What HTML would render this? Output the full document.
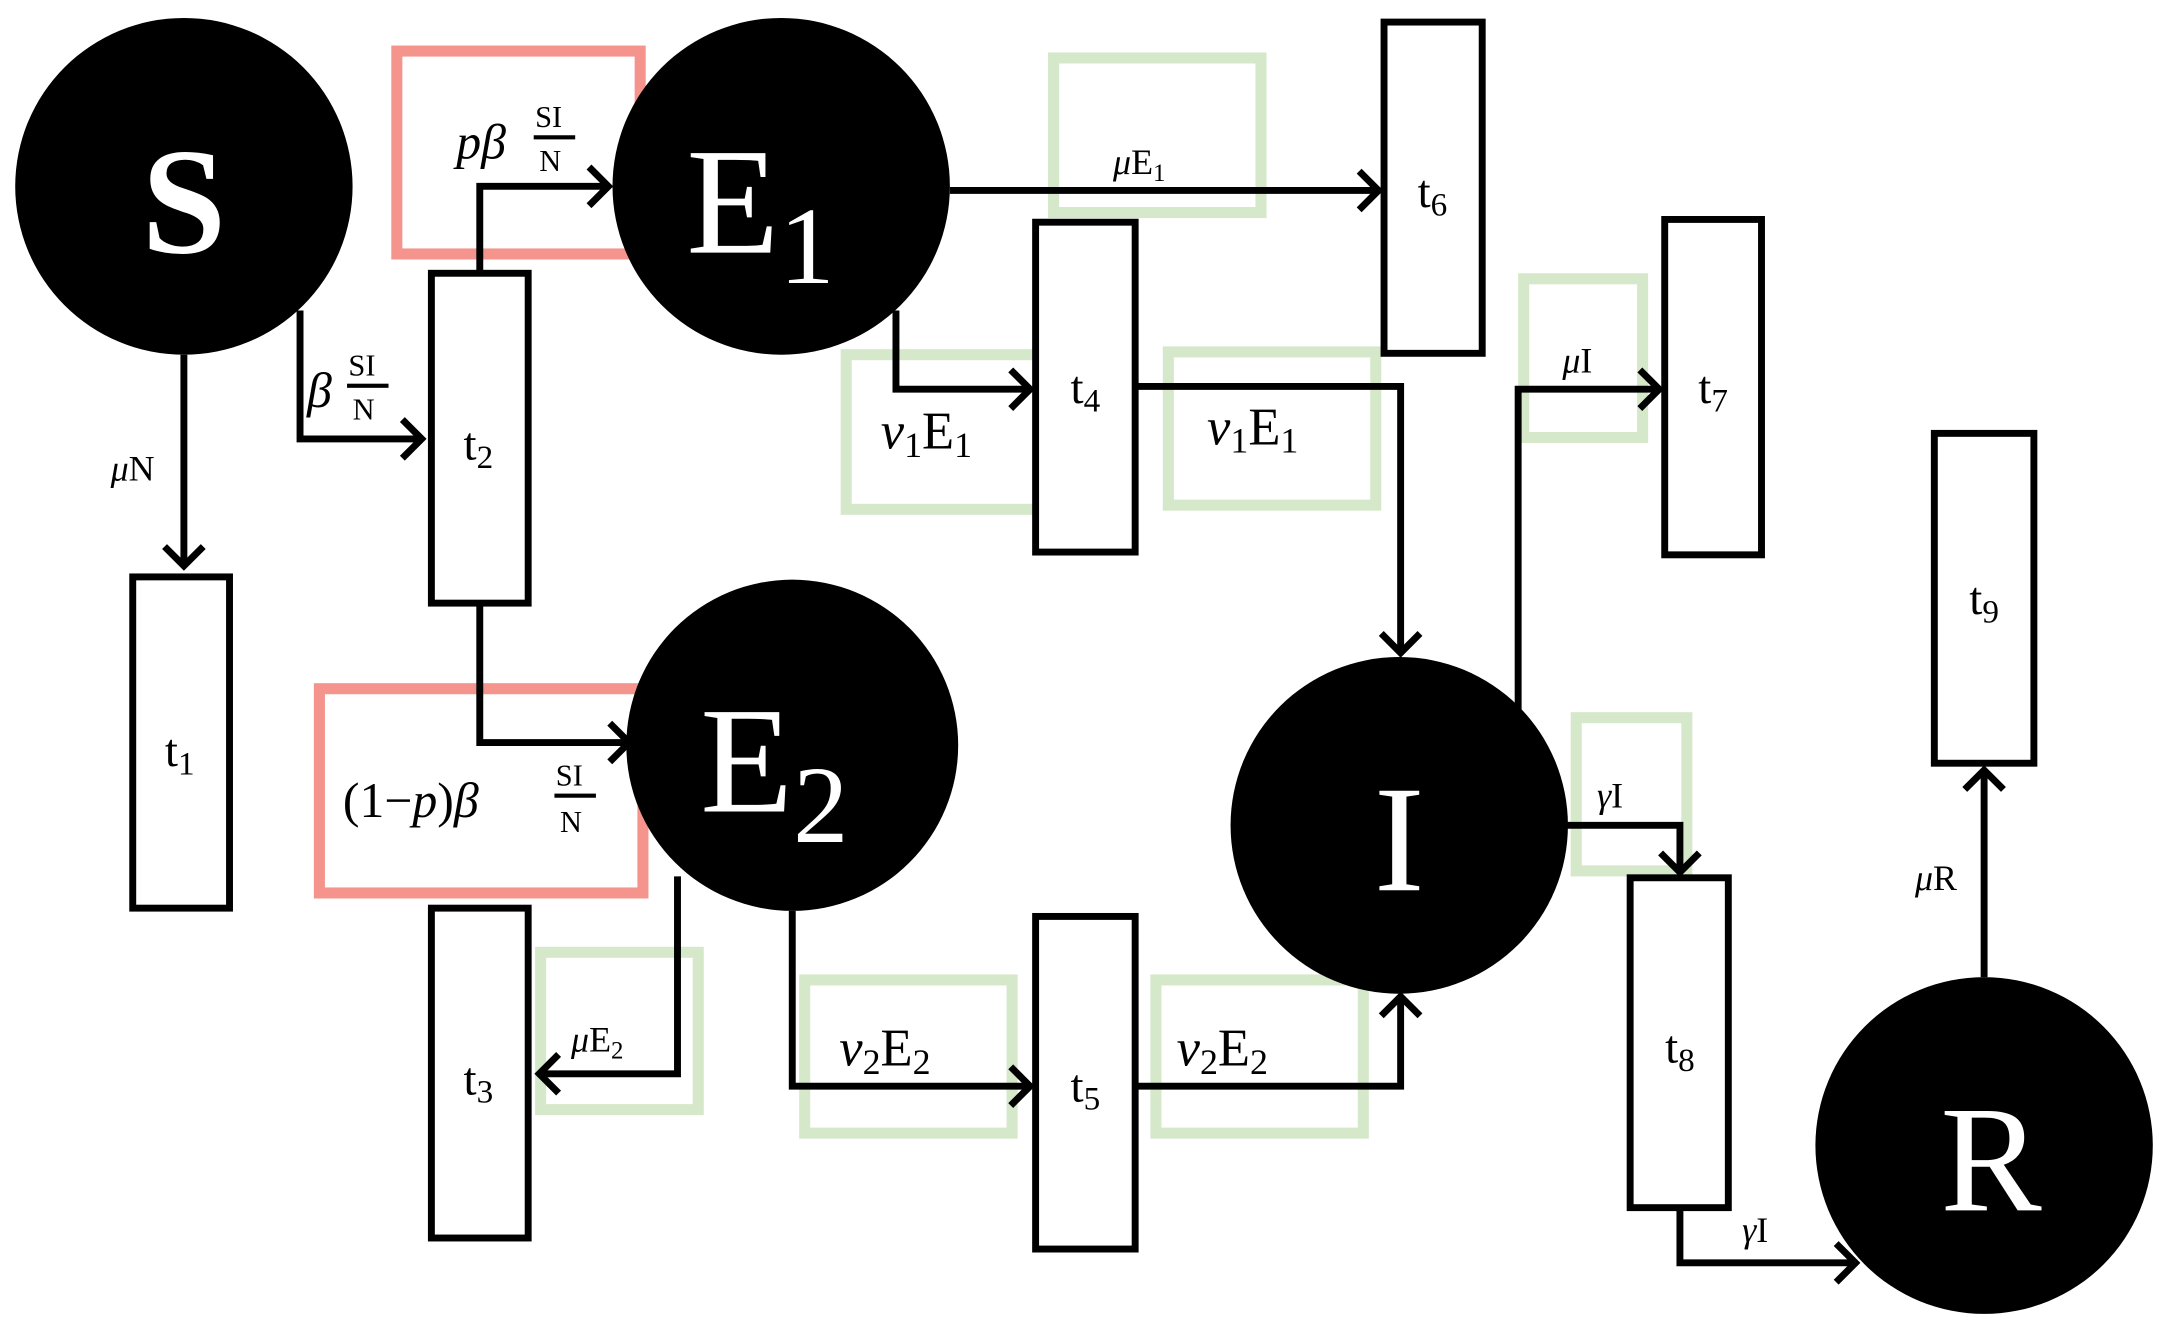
<!DOCTYPE html>
<html><head><meta charset="utf-8"><style>
html,body{margin:0;padding:0;background:#fff;}
svg{display:block;}
text{font-family:"Liberation Serif",serif;}
</style></head><body>
<svg width="2168" height="1336" viewBox="0 0 1568 968" preserveAspectRatio="none" xmlns="http://www.w3.org/2000/svg">
<defs>
<marker id="a" markerWidth="10" markerHeight="10" refX="8" refY="5" orient="auto" markerUnits="userSpaceOnUse" viewBox="0 0 10 10">
</marker>
</defs>
<!-- colored boxes -->
<g fill="none" stroke="#f4948c" stroke-width="8">
<rect x="287" y="37" width="176" height="147"/>
<rect x="231" y="499" width="234" height="148"/>
</g>
<g fill="none" stroke="#d5e8c9" stroke-width="8">
<rect x="762" y="42" width="150" height="112"/>
<rect x="612" y="257" width="150" height="112"/>
<rect x="845" y="255" width="150" height="111"/>
<rect x="1102" y="202" width="86" height="115"/>
<rect x="1140" y="520" width="80" height="111"/>
<rect x="391" y="690" width="114" height="114"/>
<rect x="582" y="710" width="150" height="111"/>
<rect x="836" y="710" width="150" height="111"/>
</g>
<!-- circles -->
<g fill="#000">
<circle cx="133" cy="135" r="122"/>
<circle cx="565" cy="135" r="122"/>
<circle cx="573" cy="540" r="120"/>
<circle cx="1012" cy="598" r="122"/>
<circle cx="1435" cy="830" r="122"/>
</g>
<g fill="#fff" font-size="110" text-anchor="middle">
<text x="133" y="183" font-weight="bold">S</text>
<text x="550" y="183">E<tspan font-size="80" dy="22">1</tspan></text>
<text x="560" y="588">E<tspan font-size="80" dy="22">2</tspan></text>
<text x="1012" y="645">I</text>
<text x="1440" y="877">R</text>
</g>
<!-- rects -->
<g fill="#fff" stroke="#000" stroke-width="5">
<rect x="96" y="418" width="70" height="240"/>
<rect x="312" y="198" width="70" height="239"/>
<rect x="312" y="658" width="70" height="239"/>
<rect x="749" y="161" width="72" height="239"/>
<rect x="749" y="664" width="72" height="241"/>
<rect x="1001" y="16" width="71" height="240"/>
<rect x="1204" y="159" width="70" height="243"/>
<rect x="1179" y="636" width="71" height="239"/>
<rect x="1399" y="314" width="72" height="239"/>
</g>
<g font-size="34" text-anchor="middle" fill="#000">
<text x="130" y="555">t<tspan font-size="24" dy="6">1</tspan></text>
<text x="346" y="333">t<tspan font-size="24" dy="6">2</tspan></text>
<text x="346" y="793">t<tspan font-size="24" dy="6">3</tspan></text>
<text x="785" y="292">t<tspan font-size="24" dy="6">4</tspan></text>
<text x="785" y="798">t<tspan font-size="24" dy="6">5</tspan></text>
<text x="1036" y="150">t<tspan font-size="24" dy="6">6</tspan></text>
<text x="1239" y="292">t<tspan font-size="24" dy="6">7</tspan></text>
<text x="1215" y="770">t<tspan font-size="24" dy="6">8</tspan></text>
<text x="1435" y="445">t<tspan font-size="24" dy="6">9</tspan></text>
</g>
<!-- connectors -->
<g fill="none" stroke="#000" stroke-width="5" stroke-linejoin="miter">
<path d="M133 257 V410"/><path d="M119 396 L133 410 L147 396"/>
<path d="M217 225 V318 H305"/><path d="M291 304 L305 318 L291 332"/>
<path d="M347 197 V135 H440"/><path d="M426 121 L440 135 L426 149"/>
<path d="M347 437 V538 H455"/><path d="M441 524 L455 538 L441 552"/>
<path d="M687 138 H997"/><path d="M983 124 L997 138 L983 152"/>
<path d="M648 225 V282 H745"/><path d="M731 268 L745 282 L731 296"/>
<path d="M822 280 H1013 V473"/><path d="M999 459 L1013 473 L1027 459"/>
<path d="M1098 515 V282 H1200"/><path d="M1186 268 L1200 282 L1186 296"/>
<path d="M1133 598 H1215 V632"/><path d="M1201 618 L1215 632 L1229 618"/>
<path d="M1215 875 V915 H1342"/><path d="M1328 901 L1342 915 L1328 929"/>
<path d="M1435 708 V558"/><path d="M1421 572 L1435 558 L1449 572"/>
<path d="M490 635 V778 H390"/><path d="M404 764 L390 778 L404 792"/>
<path d="M573 660 V787 H745"/><path d="M731 773 L745 787 L731 801"/>
<path d="M822 787 H1013 V722"/><path d="M999 736 L1013 722 L1027 736"/>
</g>
<!-- labels -->
<g fill="#000" font-size="26">
<text x="80" y="348"><tspan font-style="italic">μ</tspan>N</text>
<text x="805" y="126"><tspan font-style="italic">μ</tspan>E<tspan font-size="18" dy="5">1</tspan></text>
<text x="1130" y="270"><tspan font-style="italic">μ</tspan>I</text>
<text x="1155" y="585"><tspan font-style="italic">γ</tspan>I</text>
<text x="1260" y="900"><tspan font-style="italic">γ</tspan>I</text>
<text x="1385" y="645"><tspan font-style="italic">μ</tspan>R</text>
<text x="413" y="762"><tspan font-style="italic">μ</tspan>E<tspan font-size="18" dy="5">2</tspan></text>
</g>
<g fill="#000" font-size="38">
<text x="637" y="325"><tspan font-style="italic">v</tspan><tspan font-size="26" dy="6">1</tspan><tspan dy="-6">E</tspan><tspan font-size="26" dy="6">1</tspan></text>
<text x="873" y="322"><tspan font-style="italic">v</tspan><tspan font-size="26" dy="6">1</tspan><tspan dy="-6">E</tspan><tspan font-size="26" dy="6">1</tspan></text>
<text x="607" y="772"><tspan font-style="italic">v</tspan><tspan font-size="26" dy="6">2</tspan><tspan dy="-6">E</tspan><tspan font-size="26" dy="6">2</tspan></text>
<text x="851" y="772"><tspan font-style="italic">v</tspan><tspan font-size="26" dy="6">2</tspan><tspan dy="-6">E</tspan><tspan font-size="26" dy="6">2</tspan></text>
</g>
<!-- fractions -->
<g fill="#000">
<text x="330" y="115" font-size="36" font-style="italic">pβ</text>
<text x="387" y="92" font-size="22">SI</text><rect x="386" y="98" width="30" height="3"/><text x="390" y="124" font-size="22">N</text>
<text x="222" y="295" font-size="36" font-style="italic">β</text>
<text x="252" y="272" font-size="22">SI</text><rect x="251" y="278" width="30" height="3"/><text x="255" y="304" font-size="22">N</text>
<text x="248" y="592" font-size="36">(1−<tspan font-style="italic">p</tspan>)<tspan font-style="italic">β</tspan></text>
<text x="402" y="569" font-size="22">SI</text><rect x="401" y="575" width="30" height="3"/><text x="405" y="603" font-size="22">N</text>
</g>
</svg>
</body></html>
